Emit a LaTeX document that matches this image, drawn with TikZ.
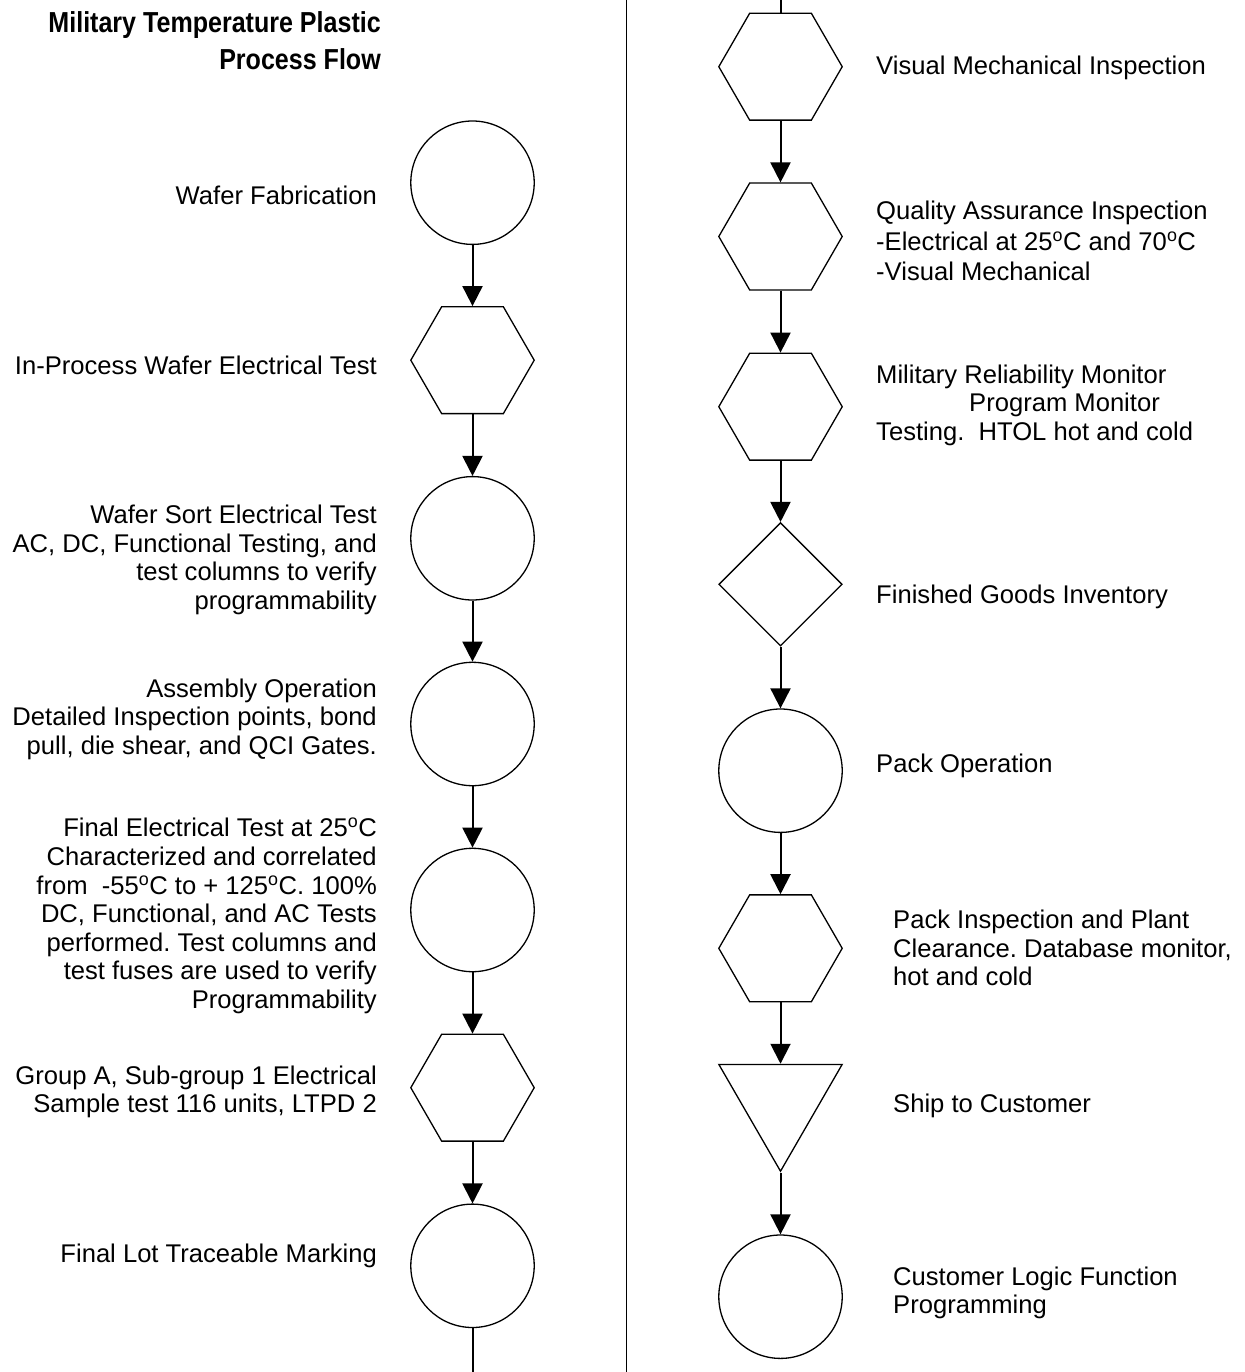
\documentclass[tikz,border=0pt]{standalone}
\usepackage{fontspec}
\setmainfont{Liberation Sans}
\usetikzlibrary{shapes.geometric,arrows.meta}
\frenchspacing
\tikzset{
  shp/.style={draw, line width=1.3pt, inner sep=0pt, fill=white},
  circ/.style={shp, circle, minimum size=123.4pt},
  hexa/.style={shp, regular polygon, regular polygon sides=6, minimum size=123.4pt},
  diam/.style={shp, diamond, minimum width=123.4pt, minimum height=123.4pt},
  tri/.style={shp, regular polygon, regular polygon sides=3, shape border rotate=180, minimum size=142.4pt},
  flow/.style={line width=2pt, -{Triangle[width=20pt,length=20pt]}},
  plain/.style={line width=2pt},
  lbl/.style={inner sep=0pt, font=\fontsize{25.6pt}{28.6pt}\selectfont\frenchspacing},
  lt/.style={lbl, anchor=east, align=right},
  rt/.style={lbl, anchor=west, align=left},
  ttl/.style={inner sep=0pt, anchor=base east, font=\fontsize{28.9pt}{36pt}\selectfont\bfseries},
}
\begin{document}
\begin{tikzpicture}[x=1pt,y=-1pt]
\path[use as bounding box, fill=white] (0,0) rectangle (1244,1372);
% separator
\coordinate (s1) at (626.7,0);
\coordinate (s2) at (626.7,1372);
\draw[line width=1.5pt] (s1) -- (s2);
% title
\node[ttl] (t1) at (381,33) {\scalebox{0.867}[1]{Military Temperature Plastic}};
\node[ttl] (t2) at (381,69.5) {\scalebox{0.867}[1]{Process Flow}};
% left column
\node[circ] (c1) at (472.5,182.7) {};
\node[hexa] (h2) at (472.5,360.2) {};
\node[circ] (c3) at (472.5,538.3) {};
\node[circ] (c4) at (472.5,724) {};
\node[circ] (c5) at (472.5,910) {};
\node[hexa] (h6) at (472.5,1087.7) {};
\node[circ] (c7) at (472.5,1265.8) {};
\coordinate (lb) at (472.5,1372);
\draw[flow] (c1) -- (h2);
\draw[flow] (h2) -- (c3);
\draw[flow] (c3) -- (c4);
\draw[flow] (c4) -- (c5);
\draw[flow] (c5) -- (h6);
\draw[flow] (h6) -- (c7);
\draw[plain] (c7) -- (lb);
% left labels
\node[lt] (l1) at (377,195) {Wafer Fabrication};
\node[lt] (l2) at (377,365) {In-Process Wafer Electrical Test};
\node[lt] (l3) at (377,560) {Wafer Sort Electrical Test\\AC, DC, Functional Testing, and\\test columns to verify\\programmability};
\node[lt] (l4) at (377,719) {Assembly Operation\\Detailed Inspection points, bond\\pull, die shear, and QCI Gates.};
\node[lt] (l5) at (377,916) {Final Electrical Test at 25\textsuperscript{o}C\\Characterized and correlated\\from\ \ -55\textsuperscript{o}C to + 125\textsuperscript{o}C. 100\%\\DC, Functional, and AC Tests\\performed. Test columns and\\test fuses are used to verify\\Programmability};
\node[lt] (l6) at (377,1092) {Group A, Sub-group 1 Electrical\\Sample test 116 units, LTPD 2};
\node[lt] (l7) at (377,1256) {Final Lot Traceable Marking};
% right column
\coordinate (rt0) at (780.5,0);
\node[hexa] (h8) at (780.5,66.7) {};
\node[hexa] (h9) at (780.5,236.5) {};
\node[hexa] (h10) at (780.5,406.7) {};
\node[diam] (d11) at (780.5,584.3) {};
\node[circ] (c12) at (780.5,770.7) {};
\node[hexa] (h13) at (780.5,948.3) {};
\node[tri] (t14) at (780.5,1100) {};
\node[circ] (c15) at (780.5,1296.7) {};
\draw[plain] (rt0) -- (h8);
\draw[flow] (h8) -- (h9);
\draw[flow] (h9) -- (h10);
\draw[flow] (h10) -- (d11);
\draw[flow] (d11) -- (c12);
\draw[flow] (c12) -- (h13);
\draw[flow] (h13) -- (t14);
\draw[flow] (t14) -- (c15);
% right labels
\node[rt] (r8) at (876,68) {Visual Mechanical Inspection};
\node[rt, font=\fontsize{25.6pt}{30.3pt}\selectfont] (r9) at (876,241) {Quality Assurance Inspection\\-Electrical at 25\textsuperscript{o}C and 70\textsuperscript{o}C\\-Visual Mechanical};
\node[rt] (r10) at (876,405) {Military Reliability Monitor\\\hspace*{93pt}Program Monitor\\Testing.\ \ HTOL hot and cold};
\node[rt] (r11) at (876,597) {Finished Goods Inventory};
\node[rt] (r12) at (876,766) {Pack Operation};
\node[rt] (r13) at (893,948) {Pack Inspection and Plant\\Clearance. Database monitor,\\hot and cold};
\node[rt] (r14) at (893,1106) {Ship to Customer};
\node[rt] (r15) at (893,1293) {Customer Logic Function\\Programming};
\end{tikzpicture}
\end{document}
